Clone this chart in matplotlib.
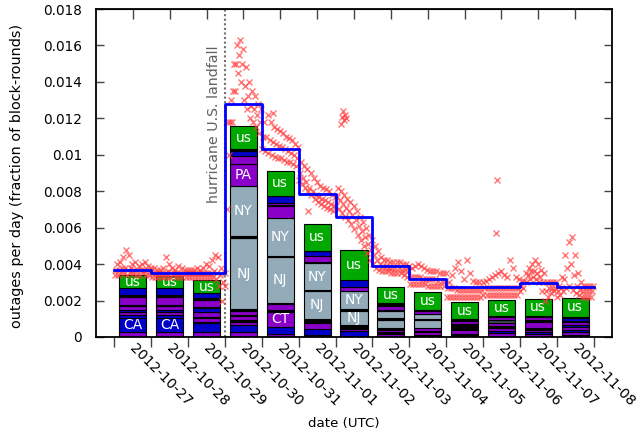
import numpy as np
import matplotlib.pyplot as plt
from matplotlib.transforms import ScaledTranslation

# day labels (x ticks at midnight UTC, one day per unit, day 0 = 2012-10-27)
day_labels = ["2012-10-27", "2012-10-28", "2012-10-29", "2012-10-30", "2012-10-31",
              "2012-11-01", "2012-11-02", "2012-11-03", "2012-11-04", "2012-11-05",
              "2012-11-06", "2012-11-07", "2012-11-08"]

# daily mean outage rate (blue steps)
daily_mean = [0.00369, 0.00350, 0.00350, 0.01277, 0.01029, 0.00785, 0.00661,
              0.00391, 0.00317, 0.00272, 0.00272, 0.00297, 0.00272]

# stacked bars, bottom to top: (region, height in 1e-5)
segs_1027 = [("p", 29), ("CA", 74), ("b", 15), ("p", 18), ("b", 12), ("p", 20), ("k", 8),
             ("p", 42), ("k", 13), ("b", 37), ("us", 73)]
segs_1028 = [("p", 29), ("CA", 74), ("b", 15), ("p", 18), ("b", 12), ("p", 20), ("k", 8),
             ("p", 42), ("k", 13), ("b", 37), ("us", 68)]
segs_1029 = [("p", 29), ("b", 46), ("k", 8), ("p", 20), ("k", 8), ("p", 28), ("b", 20),
             ("k", 8), ("p", 37), ("k", 9), ("b", 27), ("us", 73)]
segs_1030 = [("p", 28), ("b", 37), ("p", 16), ("k", 10), ("p", 22), ("k", 8), ("p", 20),
             ("k", 14), ("NJ", 386), ("k", 15), ("NY", 275), ("PA", 116), ("p", 46),
             ("b", 25), ("k", 12), ("us", 128)]
segs_1031 = [("p", 18), ("b", 37), ("CT", 83), ("k", 10), ("p", 33), ("k", 6), ("NJ", 251),
             ("k", 5), ("NY", 211), ("p", 64), ("k", 8), ("p", 10), ("b", 40), ("us", 134)]
segs_1101 = [("p", 11), ("b", 31), ("p", 33), ("k", 22), ("NJ", 156), ("k", 6), ("NY", 146),
             ("k", 6), ("p", 31), ("b", 31), ("us", 147)]
segs_1102 = [("b", 31), ("p", 15), ("k", 18), ("NJ", 78), ("k", 11), ("NY", 102), ("p", 22),
             ("b", 37), ("us", 161)]
segs_1103 = [("p", 14), ("k", 13), ("p", 12), ("k", 12), ("g", 44), ("k", 8), ("g", 37),
             ("k", 7), ("p", 22), ("k", 15), ("us", 90)]
segs_1104 = [("k", 10), ("p", 15), ("k", 10), ("p", 15), ("g", 43), ("k", 6), ("g", 28),
             ("p", 14), ("k", 8), ("us", 97)]
segs_1105 = [("k", 15), ("p", 22), ("k", 37), ("p", 15), ("k", 8), ("us", 94)]
segs_1106 = [("p", 20), ("b", 14), ("p", 18), ("k", 10), ("p", 14), ("d", 20), ("p", 15),
             ("k", 5), ("us", 88)]
segs_1107 = [("p", 14), ("b", 12), ("p", 14), ("k", 8), ("p", 37), ("k", 6), ("p", 18),
             ("k", 8), ("us", 90)]
segs_1108 = [("b", 12), ("p", 14), ("b", 10), ("p", 18), ("b", 10), ("p", 16), ("k", 8),
             ("b", 18), ("k", 6), ("us", 101)]
bar_segments = [segs_1027, segs_1028, segs_1029, segs_1030, segs_1031, segs_1101, segs_1102,
                segs_1103, segs_1104, segs_1105, segs_1106, segs_1107, segs_1108]

# per-round outage fraction, read in 2-hour bins (low / middle / high of the cloud), in 1e-4
scatter_low = [
    "34 34 35 35 34 35 35 34 34 35 34 34",
    "33 33 33 33 33 33 33 34 33 33 33 33",
    "33 33 33 33 33 33 33 33 33 32 28 20",
    "28 100 118 135 145 140 130 125 120 118 115 112",
    "103 102 101 100 99 98 98 97 96 96 95 94",
    "86 84 82 80 78 76 74 73 72 71 70 69",
    "72 70 68 66 64 62 59 56 53 50 46 42",
    "40 38 37 36 36 36 35 35 35 35 34 33",
    "29 29 29 29 29 29 28 28 28 28 28 28",
    "22 22 22 22 22 22 22 22 22 22 22 22",
    "23 23 23 23 23 23 23 23 23 23 23 23",
    "25 27 30 32 33 32 30 25 20 22 24 25",
    "22 23 25 27 28 26 24 23 22 22 22 22",
]
scatter_mid = [
    "37 37 38 38 37 38 37 37 37 37 37 36",
    "35 35 35 35 35 36 35 35 35 35 35 35",
    "35 35 35 35 35 35 35 35 36 35 34 30",
    "70 118 135 150 155 150 138 132 127 125 122 118",
    "110 110 108 107 106 105 104 103 102 101 100 98",
    "90 87 85 82 80 78 77 76 75 74 73 72",
    "77 75 73 71 69 67 64 61 58 55 51 48",
    "45 42 40 39 39 38 38 38 38 37 37 36",
    "33 33 33 33 32 32 32 32 32 31 31 31",
    "27 27 27 26 26 26 26 26 26 26 26 26",
    "27 27 27 27 27 27 27 27 27 27 27 27",
    "28 31 34 36 36 35 33 30 25 27 27 27",
    "25 27 32 38 40 34 28 26 25 25 25 25",
]
scatter_high = [
    "40 41 44 48 45 40 41 39 40 41 39 38",
    "38 37 37 38 44 40 38 37 39 38 37 37",
    "37 37 38 37 38 40 39 42 45 44 38 35",
    "118 130 150 160 163 158 148 140 135 132 128 125",
    "118 122 118 115 114 113 112 110 109 108 106 104",
    "96 94 92 90 87 85 83 82 81 80 78 77",
    "82 80 78 76 74 72 69 66 63 60 56 53",
    "50 47 44 42 42 41 41 41 41 40 40 39",
    "38 39 40 39 38 37 36 36 36 35 35 35",
    "30 34 38 41 36 32 42 35 31 30 30 30",
    "31 32 33 34 35 36 34 33 42 38 33 32",
    "31 35 38 40 42 40 37 35 30 30 30 30",
    "28 33 45 52 55 45 35 30 28 28 28 28",
]
# isolated rounds: (day offset, value in 1e-4)
outlier_t = [6.15, 6.18, 6.2, 6.22, 6.25, 6.28, 4.31, 5.24, 10.38, 10.35]
outlier_v = [117, 121, 124, 119, 122, 120, 123, 69, 86, 57]

seg_colors = {"b": "#0000c8", "p": "#8a00c8", "k": "#000000", "g": "#93aab8",
              "d": "#3c4a55", "us": "#00a800", "CA": "#0000c8", "NY": "#93aab8",
              "NJ": "#93aab8", "PA": "#8a00c8", "CT": "#8a00c8"}
named = {"us", "CA", "NY", "NJ", "PA", "CT"}

fig, ax = plt.subplots(figsize=(6.38, 4.36), dpi=100)
fig.subplots_adjust(left=96/638, right=612/638, bottom=99/436, top=427/436)

# stacked bars
for i, segs in enumerate(bar_segments):
    bottom = 0.0
    for code, h in segs:
        v = h * 1e-5
        ax.bar(i + 0.5, v, width=0.74, bottom=bottom, color=seg_colors[code],
               edgecolor="black", linewidth=0.8, zorder=2)
        if code in named:
            ax.text(i + 0.5, bottom + v / 2, code, color="white", ha="center",
                    va="center", fontsize=10, zorder=3)
        bottom += v

# scatter of rounds
hours = (2 * np.arange(12) + 1) / 24
for d in range(len(day_labels)):
    for rows, dt in ((scatter_low, -0.03), (scatter_mid, 0.0), (scatter_high, 0.03)):
        vals = np.array(rows[d].split(), dtype=float) * 1e-4
        ax.plot(d + hours + dt, vals, "x", color="#ff3c3c", alpha=0.7,
                markersize=4.5, markeredgewidth=1.0, zorder=4)
ax.plot(outlier_t, np.array(outlier_v) * 1e-4, "x", color="#ff3c3c", alpha=0.7,
        markersize=4.5, markeredgewidth=1.0, zorder=4)

# daily mean steps
ax.step(np.arange(len(daily_mean) + 1), daily_mean + [daily_mean[-1]], where="post",
        color="#0000ff", lw=2, zorder=5)

# landfall marker
ax.axvline(3, color="#707070", ls=(0, (1, 1.2)), lw=1.5, zorder=1)
ax.text(2.9, 0.0160, "hurricane U.S. landfall", rotation=90, ha="right", va="top",
        color="#606060", fontsize=10.2)

ax.set_xlim(-0.5, 13.5)
ax.set_ylim(0, 0.018)
ax.set_xticks(np.arange(14))
ax.set_xticklabels([])
ax.tick_params(axis="x", direction="out", length=7, width=1, color="#444444")
yt = np.arange(0, 0.0181, 0.002)
ax.set_yticks(yt)
ax.set_yticklabels([f"{v:g}" for v in yt])
ax.tick_params(axis="y", direction="in", length=6, width=1, right=True,
               labelsize=9.8, pad=10, color="#444444")
for s in ax.spines.values():
    s.set_linewidth(1.3)

top = ax.secondary_xaxis("top")
top.set_xticks(np.arange(13) + 0.5)
top.set_xticklabels([])
top.tick_params(direction="in", length=7, width=1, color="#444444")

trans = ax.get_xaxis_transform() + ScaledTranslation(0.15, -0.12, fig.dpi_scale_trans)
for i, lab in enumerate(day_labels):
    ax.text(i, 0, lab, transform=trans, rotation=-45, rotation_mode="anchor",
            ha="left", va="baseline", fontsize=10.2)

ax.set_ylabel("outages per day (fraction of block-rounds)", fontsize=10.4)
ax.yaxis.set_label_coords(-0.140, 0.49)
ax.set_xlabel("date (UTC)", fontsize=9.6)
ax.xaxis.set_label_coords(0.48, -0.245)

fig.savefig("out.png", dpi=100)
